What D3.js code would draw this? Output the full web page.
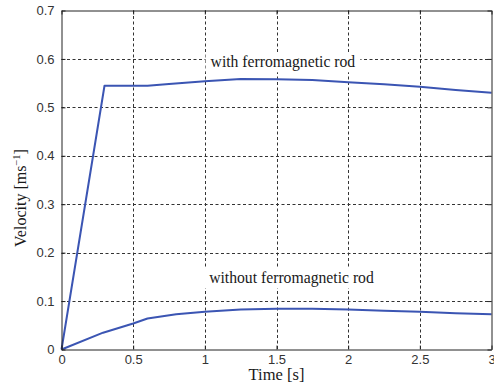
<!DOCTYPE html>
<html>
<head>
<meta charset="utf-8">
<script src="https://cdn.jsdelivr.net/npm/d3@7/dist/d3.min.js"></script>
<style>
  html, body { margin: 0; padding: 0; background: #fff; }
  svg { display: block; }
</style>
</head>
<body>
<svg id="chart" width="494" height="388"></svg>
<script>
// Velocity of the projectile over time, with and without the ferromagnetic rod
const timeWithRod = [0, 0.3, 0.6, 0.75, 1.0, 1.25, 1.5, 1.75, 2.0, 2.25, 2.5, 2.75, 3.0];
const velWithRod  = [0, 0.5446, 0.5446, 0.548, 0.554, 0.5585, 0.558, 0.5564, 0.5517, 0.5475, 0.5426, 0.5357, 0.530];

const timeWithoutRod = [0, 0.29, 0.5, 0.6, 0.8, 1.0, 1.25, 1.5, 1.75, 2.0, 2.25, 2.5, 2.75, 3.0];
const velWithoutRod  = [0, 0.0347, 0.0537, 0.064, 0.073, 0.0777, 0.0826, 0.0843, 0.0843, 0.0826, 0.0798, 0.0777, 0.075, 0.0729];

const xTicks = [0, 0.5, 1, 1.5, 2, 2.5, 3];
const yTicks = [0, 0.1, 0.2, 0.3, 0.4, 0.5, 0.6, 0.7];

const labelWith = "with ferromagnetic rod";
const labelWithout = "without ferromagnetic rod";

const svg = d3.select("#chart");
const plotLeft = 61.5, plotRight = 491.5, plotTop = 10.5, plotBottom = 349.5;

const x = d3.scaleLinear().domain([0, 3]).range([plotLeft, plotRight]);
const y = d3.scaleLinear().domain([0, 0.7]).range([plotBottom, plotTop]);

const tickFont = "'Liberation Sans', Arial, sans-serif";
const serif = "'Liberation Serif', 'Times New Roman', serif";

// dashed grid
const grid = svg.append("g").attr("stroke", "#333").attr("stroke-width", 1)
  .attr("stroke-dasharray", "3,2.5").attr("fill", "none");
grid.selectAll(".gx").data(xTicks.slice(1, -1)).join("line")
  .attr("x1", d => Math.round(x(d)) + 0.5).attr("x2", d => Math.round(x(d)) + 0.5)
  .attr("y1", plotTop).attr("y2", plotBottom);
grid.selectAll(".gy").data(yTicks.slice(1, -1)).join("line")
  .attr("y1", d => Math.round(y(d)) + 0.5).attr("y2", d => Math.round(y(d)) + 0.5)
  .attr("x1", plotLeft).attr("x2", plotRight);

// annotation labels on white boxes
function note(text, t, v) {
  const g = svg.append("g");
  const rect = g.append("rect").attr("fill", "#fff");
  const tx = g.append("text")
    .attr("x", x(t)).attr("y", y(v))
    .attr("font-family", serif).attr("font-size", 15.7)
    .attr("fill", "#1a1a1a").text(text);
  const b = tx.node().getBBox();
  rect.attr("x", b.x - 5).attr("y", b.y - 1).attr("width", b.width + 10).attr("height", b.height + 2);
}
note(labelWith, 1.04, y.invert(67.3));
note(labelWithout, 1.03, y.invert(283.3));

// curves
const line = d3.line().x(d => x(d[0])).y(d => y(d[1]));
const series = [
  d3.zip(timeWithRod, velWithRod),
  d3.zip(timeWithoutRod, velWithoutRod)
];
svg.append("g").selectAll("path").data(series).join("path")
  .attr("d", line).attr("fill", "none")
  .attr("stroke", "#3b55b3").attr("stroke-width", 2)
  .attr("stroke-linejoin", "round");

// axes frame with inward ticks
const xAxisB = d3.axisBottom(x).tickValues(xTicks).tickSizeInner(-4).tickSizeOuter(0)
  .tickFormat(d3.format("~g")).tickPadding(5);
const yAxisL = d3.axisLeft(y).tickValues(yTicks).tickSizeInner(-4).tickSizeOuter(0)
  .tickFormat(d3.format("~g")).tickPadding(7);
const xAxisT = d3.axisTop(x).tickValues(xTicks).tickSizeInner(-4).tickSizeOuter(0).tickFormat("");
const yAxisR = d3.axisRight(y).tickValues(yTicks).tickSizeInner(-4).tickSizeOuter(0).tickFormat("");

function styleAxis(g) {
  g.select(".domain").attr("stroke", "#222");
  g.selectAll(".tick line").attr("stroke", "#222");
  g.selectAll(".tick text").attr("font-family", tickFont).attr("font-size", 13).attr("fill", "#333");
}
svg.append("g").attr("transform", `translate(0,${plotBottom})`).call(xAxisB).call(styleAxis);
svg.append("g").attr("transform", `translate(${plotLeft},0)`).call(yAxisL).call(styleAxis);
svg.append("g").attr("transform", `translate(0,${plotTop})`).call(xAxisT).call(styleAxis);
svg.append("g").attr("transform", `translate(${plotRight},0)`).call(yAxisR).call(styleAxis);

// axis titles
svg.append("text")
  .attr("x", (plotLeft + plotRight) / 2).attr("y", 380)
  .attr("text-anchor", "middle")
  .attr("font-family", serif).attr("font-size", 16.5).attr("fill", "#1a1a1a")
  .text("Time [s]");

const yl = svg.append("text")
  .attr("transform", "translate(26,198) rotate(-90)")
  .attr("text-anchor", "middle")
  .attr("font-family", serif).attr("font-size", 16).attr("fill", "#1a1a1a");
yl.append("tspan").text("Velocity [ms");
yl.append("tspan").attr("font-size", 10.5).attr("dy", -6).text("\u22121");
yl.append("tspan").attr("dy", 6).text("]");
</script>
</body>
</html>
